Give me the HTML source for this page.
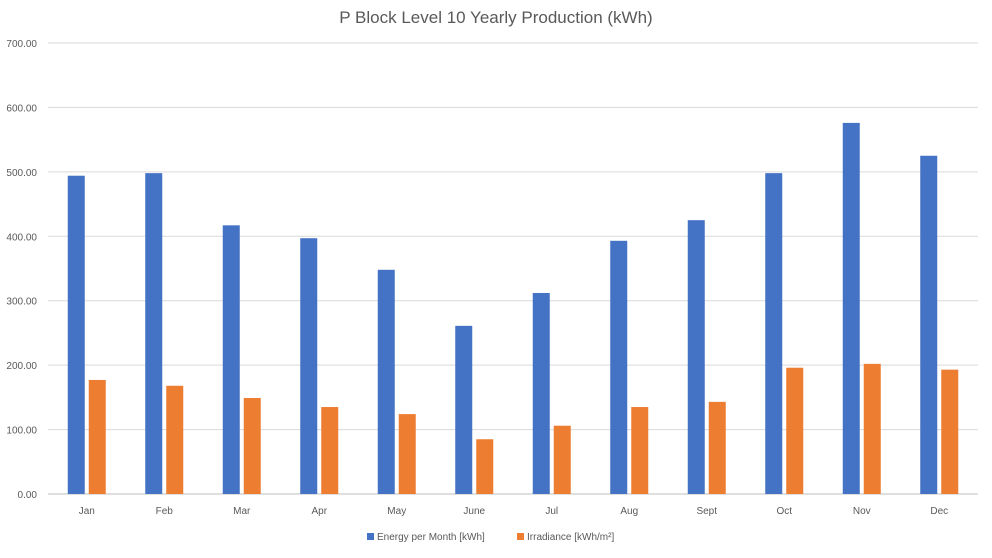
<!DOCTYPE html>
<html><head><meta charset="utf-8"><style>
body{margin:0;background:#fff;font-family:"Liberation Sans",sans-serif;}
</style></head><body>
<svg id="chart" width="992" height="553" xmlns="http://www.w3.org/2000/svg" font-family="Liberation Sans, sans-serif">
<rect width="992" height="553" fill="#fff"/>
<text x="496" y="23" text-anchor="middle" font-size="17" fill="#595959">P Block Level 10 Yearly Production (kWh)</text>
<g id="grid"></g><g id="bars"></g><g id="labels"></g>
<g>
<rect x="367" y="533" width="7" height="7" fill="#4472c4"/>
<text x="377" y="540" font-size="10" fill="#595959">Energy per Month [kWh]</text>
<rect x="517" y="533" width="7" height="7" fill="#ed7d31"/>
<text x="527" y="540" font-size="10" fill="#595959">Irradiance [kWh/m²]</text>
</g>
</svg>
<script>
const categories=["Jan","Feb","Mar","Apr","May","June","Jul","Aug","Sept","Oct","Nov","Dec"];
const energy=[494,498,417,397,348,261,312,393,425,498,576,525];
const irradiance=[177,168,149,135,124,85,106,135,143,196,202,193];
const ticks=[0,100,200,300,400,500,600,700];
const NS="http://www.w3.org/2000/svg";
const L=48,R=978,T=43,B=494,MAX=700;
const y=v=>B-(v/MAX)*(B-T);
const cw=(R-L)/categories.length;
const x=i=>L+cw*i+cw/2;
function mk(tag,attrs,parent){const e=document.createElementNS(NS,tag);for(const k in attrs)e.setAttribute(k,attrs[k]);parent.appendChild(e);return e;}
const grid=document.getElementById('grid'),bars=document.getElementById('bars'),labels=document.getElementById('labels');
ticks.forEach(t=>{
  const ln=mk('line',{x1:L,x2:R,y1:y(t),y2:y(t),stroke:t===0?'#bfbfbf':'#d9d9d9','stroke-width':1},grid);
  
  
  const tx=mk('text',{x:37,y:y(t)+4,'text-anchor':'end','font-size':10,fill:'#595959'},labels);
  tx.textContent=t.toFixed(2);
  
  
});
const bw=17,gap=4;
categories.forEach((c,i)=>{
  const b1=mk('rect',{x:x(i)-gap/2-bw,y:y(energy[i]),width:bw,height:B-y(energy[i]),fill:'#4472c4'},bars);
  
  
  const b2=mk('rect',{x:x(i)+gap/2,y:y(irradiance[i]),width:bw,height:B-y(irradiance[i]),fill:'#ed7d31'},bars);
  
  
  const tx=mk('text',{x:x(i),y:514,'text-anchor':'middle','font-size':10,fill:'#595959'},labels);
  tx.textContent=c;
  
  
});
</script>
</body></html>
